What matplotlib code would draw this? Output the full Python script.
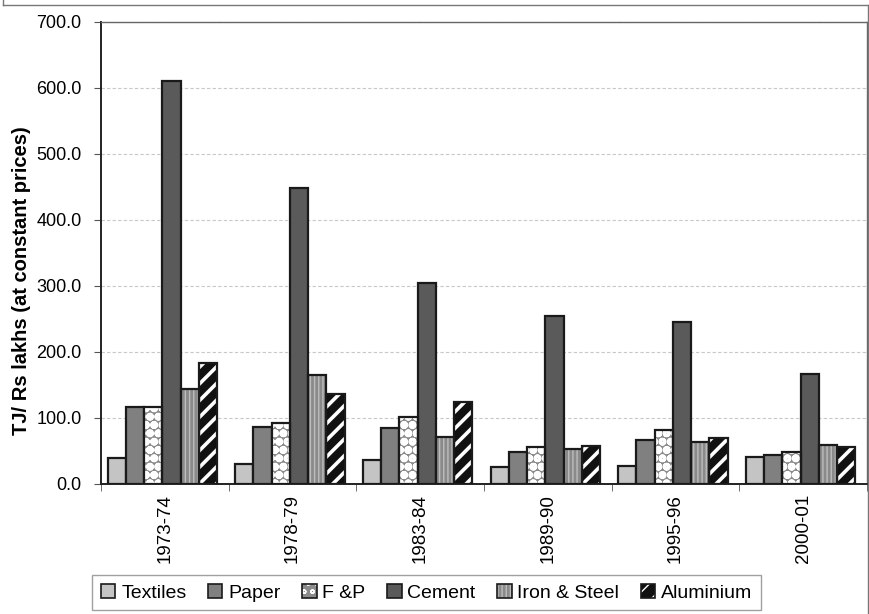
import numpy as np
import matplotlib.pyplot as plt
from matplotlib.patches import Patch
from matplotlib.lines import Line2D

plt.rcParams['font.family'] = ['Liberation Sans', 'DejaVu Sans']

years = ["1973-74", "1978-79", "1983-84", "1989-90", "1995-96", "2000-01"]
textiles = [40, 30, 36, 26, 27, 41]
paper = [117, 87, 85, 48, 66, 44]
f_and_p = [117, 92, 101, 56, 82, 48]
cement = [611, 449, 304, 255, 245, 167]
iron_steel = [144, 165, 71, 53, 63, 59]
aluminium = [184, 137, 124, 57, 69, 56]

series = [
    # name, values, face, hatch, hatch colour, hatch width
    ("Textiles", textiles, "#c4c4c4", None, None, 1.0),
    ("Paper", paper, "#808080", None, None, 1.0),
    ("F &P", f_and_p, "#8c8c8c", "oo", "white", 3.2),
    ("Cement", cement, "#5a5a5a", None, None, 1.0),
    ("Iron & Steel", iron_steel, "#8a8a8a", "||||", "#bdbdbd", 1.0),
    ("Aluminium", aluminium, "#111111", "//", "white", 2.6),
]

fig = plt.figure(figsize=(8.69, 6.14), dpi=100)
ax = fig.add_axes([101 / 869, 1 - 484 / 614, 766 / 869, 462 / 614])

x = np.arange(len(years))
w = 1 / 7
handles = []
for i, (name, vals, face, hatch, hcol, hlw) in enumerate(series):
    pos = x + (i - 2.5) * w - 0.02
    if hatch:
        with plt.rc_context({'hatch.linewidth': hlw}):
            ax.bar(pos, vals, w, color=face, edgecolor=hcol, hatch=hatch,
                   linewidth=0, zorder=3)
            hp = Patch(facecolor=face, edgecolor=hcol, hatch=hatch, linewidth=0)
        ax.bar(pos, vals, w, facecolor="none", edgecolor="#1a1a1a",
               linewidth=1.6, zorder=4)
        handles.append((hp, Patch(facecolor="none", edgecolor="#1a1a1a", linewidth=1.2)))
    else:
        ax.bar(pos, vals, w, color=face, edgecolor="#1a1a1a", linewidth=1.6, zorder=3)
        handles.append(Patch(facecolor=face, edgecolor="#1a1a1a", linewidth=1.2))

ax.set_xlim(-0.5, len(years) - 0.5)
ax.set_ylim(0, 700)
ax.set_yticks(np.arange(0, 701, 100))
ax.set_yticklabels([f"{v:.1f}" for v in np.arange(0, 701, 100)], fontsize=13)
ax.set_xticks(x)
ax.set_xticklabels(years, rotation=90, fontsize=13.5)
ax.tick_params(axis='x', length=0, pad=7)
ax.set_xticks(np.arange(-0.5, len(years)), minor=True)
ax.tick_params(axis='x', which='minor', length=5, direction='out', color="#555555")
ax.tick_params(axis='y', length=5, direction='out', color="#555555", pad=9)

ax.yaxis.grid(True, linestyle=(0, (3, 2)), color="#c8c8c8", linewidth=0.8)
ax.set_axisbelow(True)
for side in ("left", "bottom"):
    ax.spines[side].set_color("#222222")
    ax.spines[side].set_linewidth(1.4)
for side in ("top", "right"):
    ax.spines[side].set_color("#666666")
    ax.spines[side].set_linewidth(1.0)

ax.set_ylabel("TJ/ Rs lakhs (at constant prices)", fontsize=14.5, fontweight="bold")
ax.yaxis.set_label_coords(-70 / 766, 0.44)

names = [s[0] for s in series]
fig.legend(handles, names, loc="upper left", bbox_to_anchor=(92 / 869, 1 - 575 / 614),
           borderaxespad=0, ncol=6, fontsize=14, frameon=True, fancybox=False,
           edgecolor="#888888", handlelength=0.75, handleheight=0.75,
           handletextpad=0.3, columnspacing=1.1, borderpad=0.45)

# outer frame of the chart area
for xs, ys in [((3, 3), (0, 5)), ((3, 868), (5, 5)), ((868, 868), (5, 614))]:
    fig.add_artist(Line2D([v / 869 for v in xs], [1 - v / 614 for v in ys],
                          color="#777777", linewidth=1.0))

fig.savefig("out.png", dpi=100)
